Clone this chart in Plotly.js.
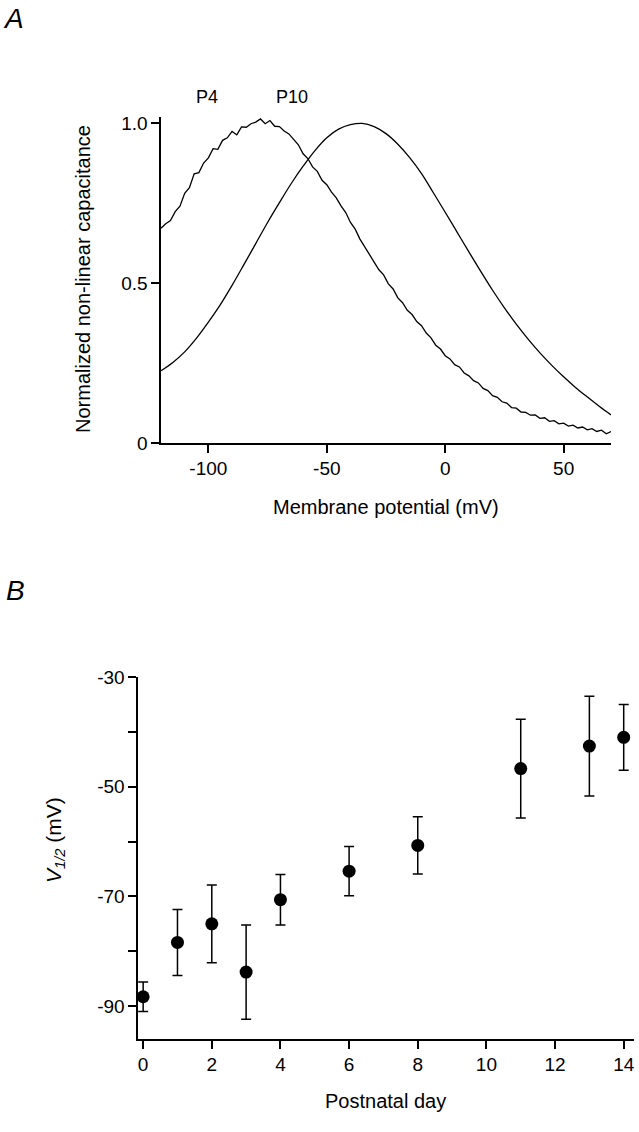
<!DOCTYPE html>
<html>
<head>
<meta charset="utf-8">
<script src="https://cdn.plot.ly/plotly-3.0.1.min.js"></script>
<style>
  html, body { margin: 0; padding: 0; background: #ffffff; }
  #chart { width: 639px; height: 1132px; }
</style>
</head>
<body>
<div id="chart"></div>
<script>
// ---- Panel A data: normalized non-linear capacitance vs membrane potential ----
const p4Voltage = [-120,-118,-116,-114,-112,-110,-108,-106,-104,-102,-100,-98,-96,-94,-92,-90,-88,-86,-84,-82,-80,-78,-76,-74,-72,-70,-68,-66,-64,-62,-60,-58,-56,-54,-52,-50,-48,-46,-44,-42,-40,-38,-36,-34,-32,-30,-28,-26,-24,-22,-20,-18,-16,-14,-12,-10,-8,-6,-4,-2,0,2,4,6,8,10,12,14,16,18,20,22,24,26,28,30,32,34,36,38,40,42,44,46,48,50,52,54,56,58,60,62,64,66,68,70];
const p4Cap = [0.672,0.686,0.696,0.724,0.741,0.781,0.799,0.842,0.846,0.876,0.892,0.921,0.919,0.947,0.955,0.975,0.964,0.989,0.988,0.999,1.004,1.014,0.999,1.009,0.991,0.990,0.976,0.967,0.950,0.933,0.905,0.890,0.864,0.850,0.822,0.808,0.785,0.767,0.742,0.721,0.690,0.669,0.638,0.614,0.587,0.567,0.542,0.526,0.498,0.482,0.454,0.439,0.415,0.402,0.380,0.367,0.344,0.329,0.306,0.294,0.273,0.263,0.245,0.238,0.219,0.210,0.195,0.188,0.171,0.164,0.148,0.143,0.129,0.125,0.111,0.109,0.097,0.096,0.087,0.088,0.077,0.079,0.068,0.070,0.060,0.062,0.053,0.056,0.047,0.050,0.041,0.045,0.036,0.040,0.029,0.036];

const p10Voltage = [-120,-115,-110,-105,-100,-95,-90,-85,-80,-75,-70,-65,-60,-55,-50,-45,-40,-35,-30,-25,-20,-15,-10,-5,0,5,10,15,20,25,30,35,40,45,50,55,60,65,70];
const p10Cap = [0.226,0.252,0.285,0.328,0.378,0.432,0.493,0.558,0.624,0.690,0.752,0.812,0.866,0.915,0.955,0.982,0.996,1.000,0.990,0.968,0.935,0.893,0.843,0.783,0.722,0.660,0.598,0.537,0.478,0.423,0.372,0.325,0.282,0.243,0.207,0.174,0.144,0.115,0.088];

const curveLabels = ['P4', 'P10'];
const curveLabelX = [-100.4, -64.5];

const aXTicks = [-100, -50, 0, 50];
const aXTickText = ['-100', '-50', '0', '50'];
const aYTicks = [0, 0.5, 1.0];
const aYTickText = ['0', '0.5', '1.0'];

// ---- Panel B data: V1/2 vs postnatal day ----
const postnatalDay = [0, 1, 2, 3, 4, 6, 8, 11, 13, 14];
const vHalf = [-88.3, -78.4, -75.0, -83.8, -70.6, -65.4, -60.7, -46.7, -42.6, -41.0];
const vHalfErr = [2.7, 6.0, 7.1, 8.6, 4.6, 4.5, 5.2, 9.0, 9.1, 6.0];

const bXTicks = [0, 2, 4, 6, 8, 10, 12, 14];
const bYTicks = [-90, -80, -70, -60, -50, -40, -30];
const bYTickText = ['-90', '\u00a0', '-70', '\u00a0', '-50', '\u00a0', '-30'];

const W = 639, H = 1132;
const FONT = 'Liberation Sans, Arial, Helvetica, sans-serif';
const px = v => v / W;
const py = v => 1 - v / H;

const traces = [
  {
    x: p4Voltage, y: p4Cap, type: 'scatter', mode: 'lines', name: 'P4',
    xaxis: 'x', yaxis: 'y',
    line: { color: '#000000', width: 1.3 }, cliponaxis: false
  },
  {
    x: p10Voltage, y: p10Cap, type: 'scatter', mode: 'lines', name: 'P10',
    xaxis: 'x', yaxis: 'y',
    line: { color: '#000000', width: 1.3, shape: 'spline', smoothing: 1 }, cliponaxis: false
  },
  {
    x: postnatalDay, y: vHalf, type: 'scatter', mode: 'markers', name: 'V1/2',
    xaxis: 'x2', yaxis: 'y2',
    marker: { color: '#000000', size: 13 },
    error_y: { type: 'data', array: vHalfErr, visible: true, color: '#000000', thickness: 1.5, width: 5 },
    cliponaxis: false
  }
];

function axisBase() {
  return {
    showgrid: false, zeroline: false, showline: true,
    linecolor: 'black', linewidth: 1.6,
    ticks: 'outside', ticklen: 8, tickwidth: 2, tickcolor: 'black',
    tickfont: { family: FONT, size: 19, color: '#000000' },
    fixedrange: true
  };
}

const layout = {
  width: W, height: H,
  margin: { l: 0, r: 0, t: 0, b: 0 },
  paper_bgcolor: '#ffffff', plot_bgcolor: '#ffffff',
  showlegend: false,
  font: { family: FONT, color: '#000000' },
  xaxis: Object.assign(axisBase(), {
    domain: [px(161), px(611)], range: [-120, 70],
    tickmode: 'array', tickvals: aXTicks, ticktext: aXTickText, anchor: 'y'
  }),
  yaxis: Object.assign(axisBase(), {
    domain: [py(443), py(117)], range: [0, 1.02],
    tickmode: 'array', tickvals: aYTicks, ticktext: aYTickText, anchor: 'x',
    ticksuffix: '\u00a0\u00a0'
  }),
  xaxis2: Object.assign(axisBase(), {
    domain: [px(138), px(634)], range: [-0.15, 14.3],
    tickmode: 'array', tickvals: bXTicks, anchor: 'y2'
  }),
  yaxis2: Object.assign(axisBase(), {
    domain: [py(1039), py(677)], range: [-96, -30],
    tickmode: 'array', tickvals: bYTicks, ticktext: bYTickText, anchor: 'x2',
    ticksuffix: '\u00a0\u00a0'
  }),
  annotations: [
    { text: '<i>A</i>', xref: 'paper', yref: 'paper', x: px(13), y: py(18),
      xanchor: 'center', yanchor: 'middle', showarrow: false,
      font: { family: FONT, size: 28, color: '#000000' } },
    { text: '<i>B</i>', xref: 'paper', yref: 'paper', x: px(15), y: py(590),
      xanchor: 'center', yanchor: 'middle', showarrow: false,
      font: { family: FONT, size: 28, color: '#000000' } },
    { text: curveLabels[0], xref: 'x', yref: 'paper', x: curveLabelX[0], y: py(97),
      xanchor: 'center', yanchor: 'middle', showarrow: false,
      font: { family: FONT, size: 18, color: '#000000' } },
    { text: curveLabels[1], xref: 'x', yref: 'paper', x: curveLabelX[1], y: py(97),
      xanchor: 'center', yanchor: 'middle', showarrow: false,
      font: { family: FONT, size: 18, color: '#000000' } },
    { text: 'Membrane potential (mV)', xref: 'paper', yref: 'paper', x: px(386), y: py(507),
      xanchor: 'center', yanchor: 'middle', showarrow: false,
      font: { family: FONT, size: 20, color: '#000000' } },
    { text: 'Normalized non-linear capacitance', xref: 'paper', yref: 'paper', x: px(83), y: py(279),
      xanchor: 'center', yanchor: 'middle', showarrow: false, textangle: -90,
      font: { family: FONT, size: 20, color: '#000000' } },
    { text: 'Postnatal day', xref: 'paper', yref: 'paper', x: px(386), y: py(1101),
      xanchor: 'center', yanchor: 'middle', showarrow: false,
      font: { family: FONT, size: 20, color: '#000000' } },
    { text: '<i>V</i><sub><i>1/2</i></sub> (mV)', xref: 'paper', yref: 'paper', x: px(55), y: py(840),
      xanchor: 'center', yanchor: 'middle', showarrow: false, textangle: -90,
      font: { family: FONT, size: 21, color: '#000000' } }
  ]
};

Plotly.newPlot('chart', traces, layout, { staticPlot: true, displayModeBar: false });
</script>
</body>
</html>
